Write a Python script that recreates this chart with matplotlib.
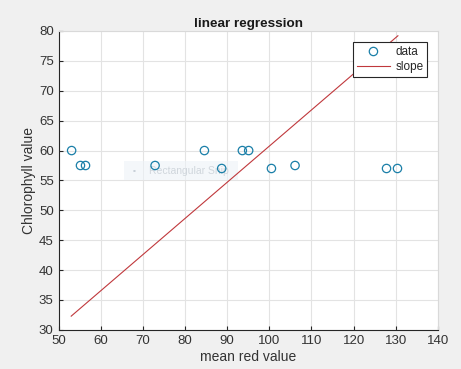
import matplotlib
matplotlib.use("Agg")
import matplotlib.pyplot as plt
from matplotlib.patches import Rectangle

plt.rcParams['font.family'] = ['Liberation Sans', 'DejaVu Sans']

mean_red = [53.1, 55.2, 56.4, 72.9, 84.6, 88.7, 93.6, 95.1, 100.5, 106.1, 127.8, 130.4]
chlorophyll = [60.0, 57.5, 57.5, 57.5, 60.0, 57.0, 60.0, 60.0, 57.0, 57.5, 57.0, 57.0]
slope_x = [53.0, 130.5]
slope_y = [32.3, 79.2]
x_ticks = [50, 60, 70, 80, 90, 100, 110, 120, 130, 140]
y_ticks = [30, 35, 40, 45, 50, 55, 60, 65, 70, 75, 80]

fig = plt.figure(figsize=(4.61, 3.69), dpi=100, facecolor='#f0f0f0')
ax = fig.add_axes([0.127, 0.106, 0.823, 0.810])
ax.set_facecolor('white')

ax.scatter(mean_red, chlorophyll, s=36, facecolors='none', edgecolors='#1a7fa8',
           linewidths=0.9, label='data', zorder=3)
ax.plot(slope_x, slope_y, color='#c0383c', linewidth=0.8, label='slope', zorder=3)

ax.set_xlim(50, 140)
ax.set_ylim(30, 80)
ax.set_xticks(x_ticks)
ax.set_yticks(y_ticks)
ax.grid(True, color='#e3e3e3', linewidth=0.8)
ax.set_axisbelow(True)

for s in ['top', 'right']:
    ax.spines[s].set_color('#d9d9d9')
    ax.spines[s].set_linewidth(0.8)
for s in ['left', 'bottom']:
    ax.spines[s].set_color('#262626')
    ax.spines[s].set_linewidth(0.8)

ax.tick_params(direction='in', length=3, width=0.8, colors='#262626',
               labelsize=9.5, labelcolor='#333333', top=False, right=False)

ax.set_title('linear regression', fontsize=9.7, fontweight='bold', color='#1a1a1a', pad=3)
ax.set_xlabel('mean red value', fontsize=10, color='#333333', labelpad=2)
ax.set_ylabel('Chlorophyll value', fontsize=10, color='#333333', labelpad=2)

# faint screenshot overlay artefact
ax.add_patch(Rectangle((65.5, 55.0), 27, 3.2, facecolor='#eef3f8', edgecolor='none',
                       alpha=0.6, zorder=2))
ax.text(67.5, 56.6, '\u25aa', fontsize=6, color='#c8d0d8', va='center', zorder=2)
ax.text(71.5, 56.6, 'Rectangular Snip', fontsize=7.5, color='#d0d6dc', va='center', zorder=2)

leg = ax.legend(loc='upper right', bbox_to_anchor=(0.971, 0.963), fontsize=8.5,
                frameon=True, fancybox=False, edgecolor='#262626', framealpha=1,
                borderpad=0.3, borderaxespad=0, handlelength=2.8, labelspacing=0.3,
                handletextpad=0.45, markerfirst=True)
leg.get_frame().set_linewidth(0.8)
for t in leg.get_texts():
    t.set_color('#262626')

fig.savefig('out.png', dpi=100, facecolor=fig.get_facecolor())
